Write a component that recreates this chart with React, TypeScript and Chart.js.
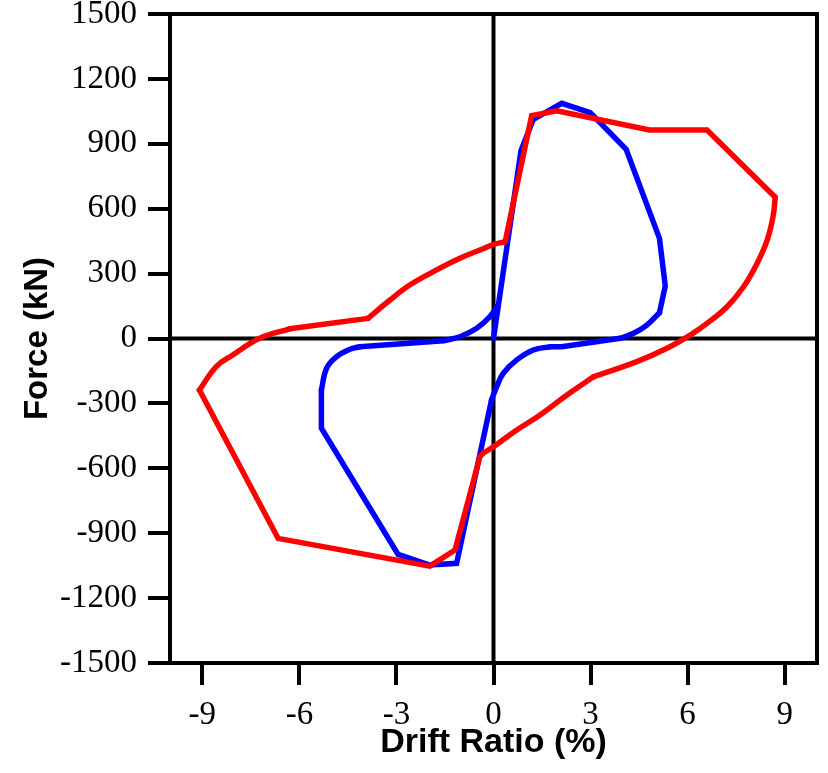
import React, { useEffect, useRef } from 'react';
import { Chart, registerables } from 'chart.js';

Chart.register(...registerables);

const xTicks = [-9, -6, -3, 0, 3, 6, 9];
const yTicks = [-1500, -1200, -900, -600, -300, 0, 300, 600, 900, 1200, 1500];

const redDrift = [0.36, 1.18, 1.96, 4.82, 6.6, 8.71, 8.64, 8.46, 8.15, 7.73, 7.22, 6.6, 6.08, 5.36, 4.43, 3.09, 2.27, 1.44, 0.72, 0.0, -0.32, -0.42, -1.19, -1.97, -6.66, -9.09, -8.57, -8.06, -7.23, -6.3, -3.88, -3.2, -2.59, -1.86, -1.04, -0.32, 0.0, 0.36];
const redForce = [447, 1030, 1053, 964, 964, 653, 563, 455, 348, 239, 147, 70, 16, -45, -107, -177, -261, -354, -423, -500, -531, -546, -978, -1052, -924, -238, -130, -76, 1, 45, 93, 178, 247, 309, 371, 415, 435, 447];
// [start index, end index, curved]
const redSegments: [number, number, boolean][] = [[0, 5, false], [5, 15, true], [15, 21, true], [21, 25, false], [25, 29, true], [29, 30, false], [30, 37, true]];

const blueDrift = [0.0, 0.85, 1.23, 2.11, 2.99, 4.1, 5.13, 5.31, 5.13, 4.74, 4.33, 3.92, 2.11, 1.75, 1.23, 0.72, 0.3, 0.1, -0.06, -1.14, -1.97, -2.95, -5.32, -5.32, -5.16, -4.85, -4.44, -4.13, -1.55, -1.04, -0.52, -0.11, 0.12];
const blueForce = [0, 868, 1013, 1087, 1044, 875, 463, 243, 119, 62, 24, 1, -38, -38, -53, -99, -161, -223, -284, -1039, -1047, -998, -415, -238, -138, -84, -50, -38, -10, 8, 47, 101, 150];
const blueSegments: [number, number, boolean][] = [[0, 8, false], [8, 11, true], [11, 13, false], [13, 18, true], [18, 23, false], [23, 27, true], [27, 28, false], [28, 32, true]];

const toPoints = (xs: number[], ys: number[], a: number, b: number) => {
  const pts: { x: number; y: number }[] = [];
  for (let i = a; i <= b; i++) pts.push({ x: xs[i], y: ys[i] });
  return pts;
};

const makeSets = (xs: number[], ys: number[], segs: [number, number, boolean][], color: string, name: string) =>
  segs.map(([a, b, curved]) => ({
    label: name,
    data: toPoints(xs, ys, a, b),
    showLine: true,
    borderColor: color,
    backgroundColor: color,
    borderWidth: 5.5,
    pointRadius: 0,
    tension: curved ? 0.4 : 0,
    borderJoinStyle: 'miter',
    borderCapStyle: 'round',
  }));

const framePlugin = {
  id: 'frame',
  beforeDatasetsDraw(chart: any) {
    const { ctx, chartArea: a, scales } = chart;
    const x0 = scales.x.getPixelForValue(0);
    const y0 = scales.y.getPixelForValue(0);
    ctx.save();
    ctx.strokeStyle = '#000';
    ctx.lineWidth = 4;
    ctx.lineCap = 'square';
    ctx.strokeRect(a.left, a.top, a.right - a.left, a.bottom - a.top);
    ctx.beginPath();
    ctx.moveTo(x0, a.top);
    ctx.lineTo(x0, a.bottom);
    ctx.moveTo(a.left, y0);
    ctx.lineTo(a.right, y0);
    ctx.stroke();
    ctx.restore();
  },
};

export default function App() {
  const ref = useRef<HTMLCanvasElement | null>(null);
  useEffect(() => {
    if (!ref.current) return;
    const chart = new Chart(ref.current, {
      type: 'scatter',
      data: {
        datasets: [
          ...makeSets(redDrift, redForce, redSegments, '#ff0000', 'Red'),
          ...makeSets(blueDrift, blueForce, blueSegments, '#0000ff', 'Blue'),
        ],
      },
      options: {
        responsive: false,
        animation: false,
        layout: { padding: { top: 14, right: 11, left: 0, bottom: 0 } },
        plugins: { legend: { display: false }, tooltip: { enabled: false } },
        scales: {
          x: {
            type: 'linear',
            min: -10,
            max: 10,
            afterBuildTicks: (s: any) => {
              s.ticks = xTicks.map((v) => ({ value: v }));
            },
            afterFit: (s: any) => {
              s.height = 110;
              s.paddingLeft = 0;
              s.paddingRight = 0;
            },
            grid: { drawOnChartArea: false, color: '#000', lineWidth: 4, tickLength: 22 },
            border: { display: false },
            ticks: {
              color: '#000',
              padding: 14,
              maxRotation: 0,
              autoSkip: false,
              font: { family: '"Liberation Serif", serif', size: 33, lineHeight: 1 },
              callback: (v: any) => String(v),
            },
            title: {
              display: true,
              text: 'Drift Ratio (%)',
              color: '#000',
              font: { family: '"Liberation Sans", Arial, sans-serif', size: 34, weight: 'bold', lineHeight: 1 },
              padding: { top: 0, bottom: 13 },
            },
          },
          y: {
            type: 'linear',
            min: -1500,
            max: 1500,
            afterBuildTicks: (s: any) => {
              s.ticks = yTicks.map((v) => ({ value: v }));
            },
            afterFit: (s: any) => {
              s.width = 170;
              s.paddingTop = 0;
              s.paddingBottom = 0;
            },
            grid: { drawOnChartArea: false, color: '#000', lineWidth: 4, tickLength: 22 },
            border: { display: false },
            ticks: {
              color: '#000',
              padding: 11,
              autoSkip: false,
              font: { family: '"Liberation Serif", serif', size: 33, lineHeight: 1 },
              callback: (v: any) => String(v),
            },
            title: {
              display: true,
              text: 'Force (kN)',
              color: '#000',
              font: { family: '"Liberation Sans", Arial, sans-serif', size: 33, weight: 'bold', lineHeight: 1 },
              padding: { top: 21, bottom: 0 },
            },
          },
        },
      },
      plugins: [framePlugin],
    } as any);
    return () => chart.destroy();
  }, []);
  return (
    <div style={{ position: 'absolute', left: 0, top: 0, width: 828, height: 773, background: '#fff' }}>
      <canvas ref={ref} width={828} height={773} />
    </div>
  );
}
